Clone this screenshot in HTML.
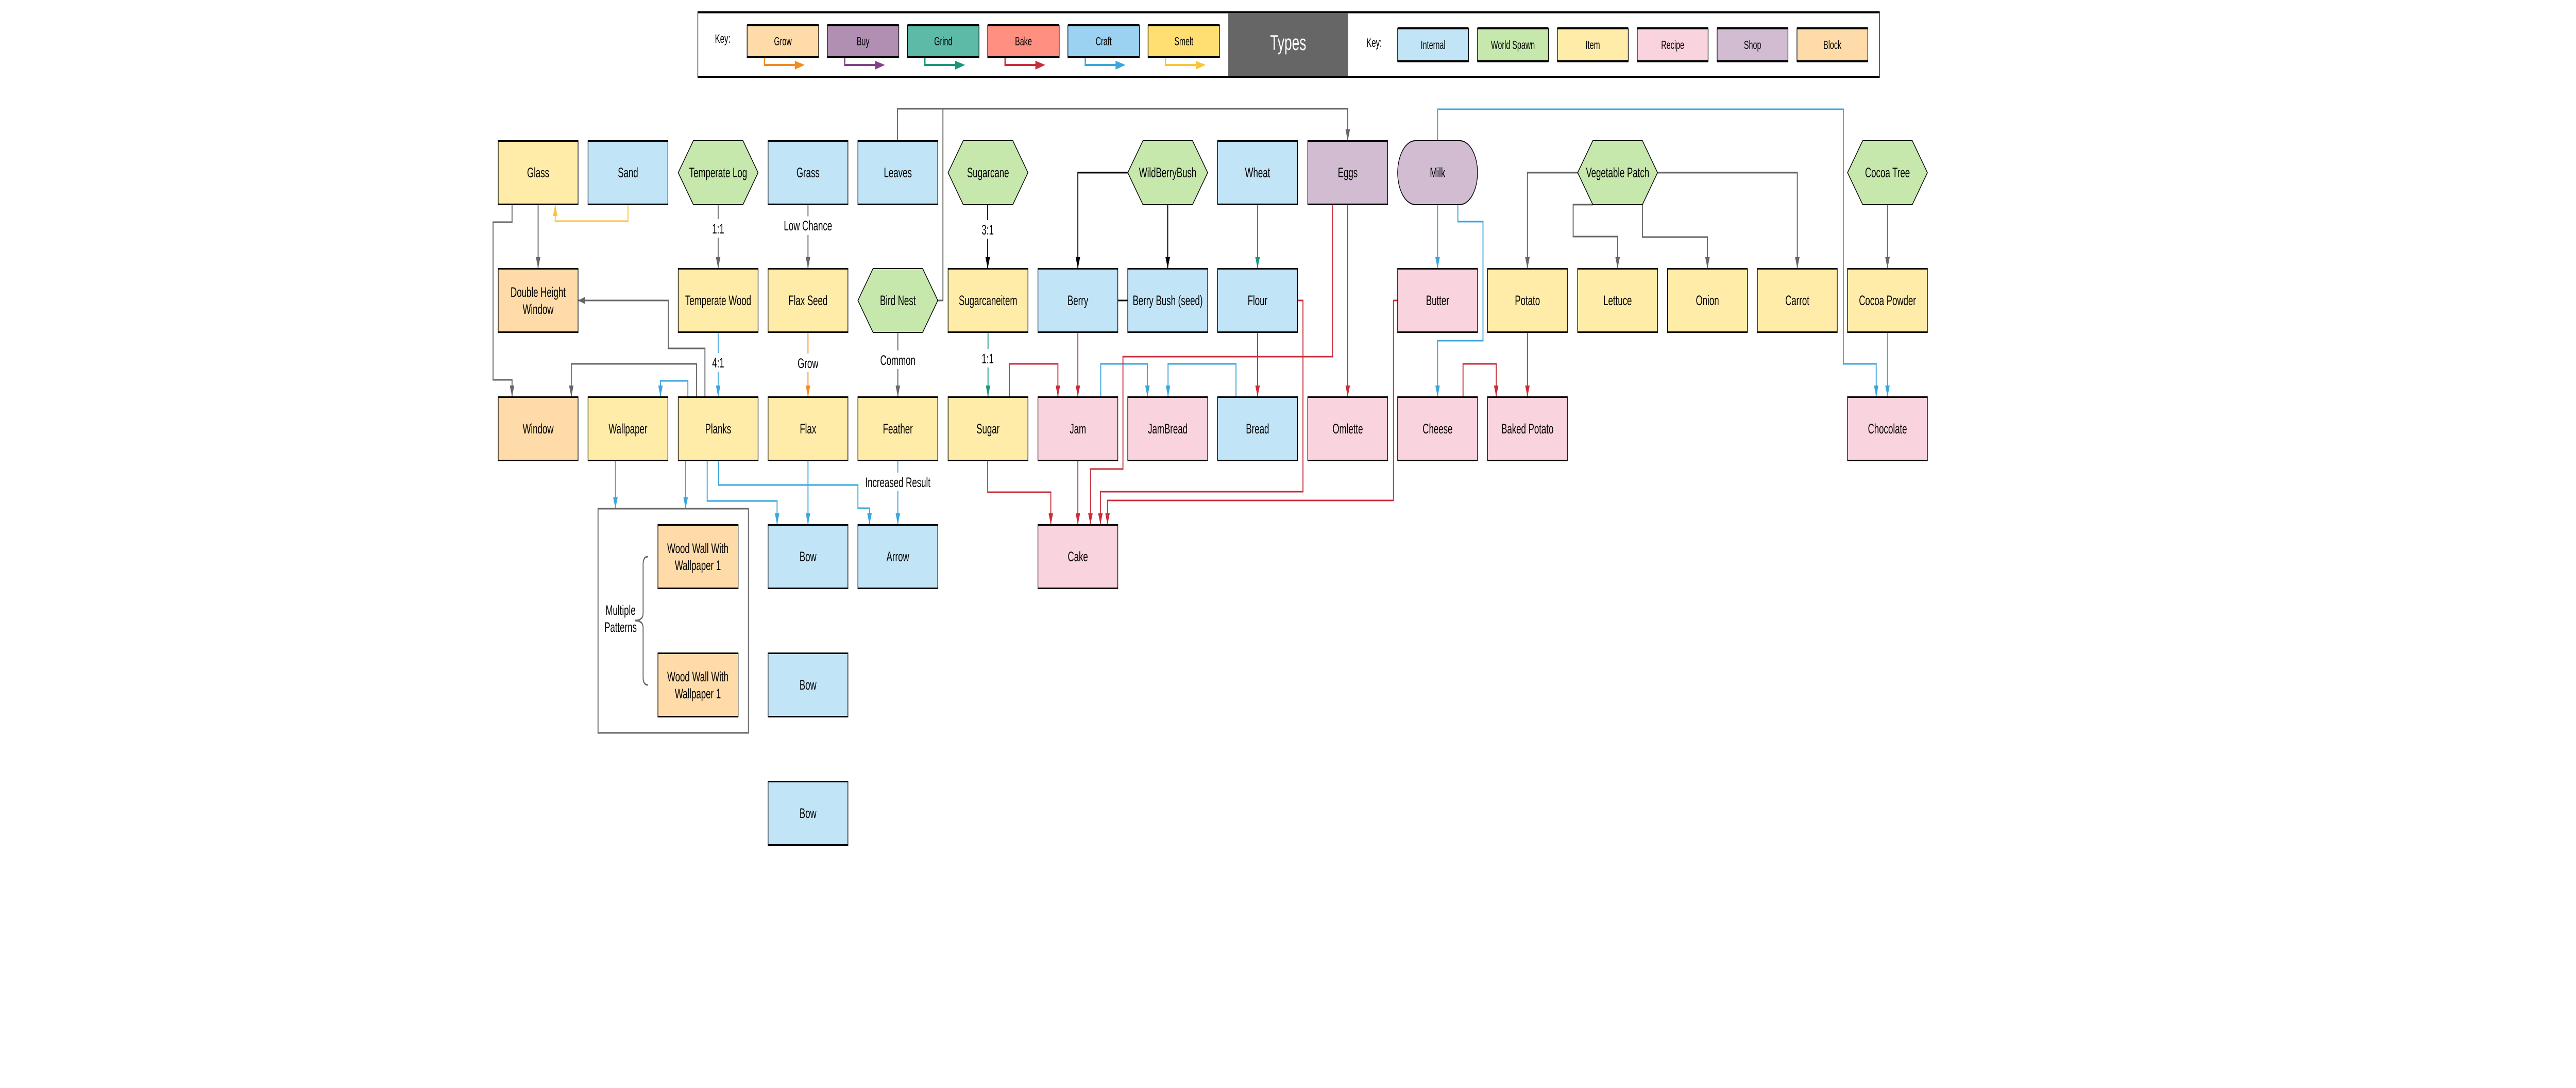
<!DOCTYPE html>
<html><head><meta charset="utf-8"><style>
html,body{margin:0;padding:0;background:#fff;overflow:hidden;width:100%;height:100%;}
svg{display:block;width:100vw;height:100vh;}
text{font-family:"Liberation Sans",sans-serif;fill:#000;}
</style></head><body>
<svg viewBox="0 0 7999 2111" preserveAspectRatio="none" xmlns="http://www.w3.org/2000/svg">
<defs>
<marker id="mg" viewBox="0 0 22 14" refX="22" refY="7" markerWidth="22" markerHeight="14" markerUnits="userSpaceOnUse" orient="auto"><path d="M0,0 L22,7 L0,14z" fill="#666"/></marker>
<marker id="mk" viewBox="0 0 22 14" refX="22" refY="7" markerWidth="22" markerHeight="14" markerUnits="userSpaceOnUse" orient="auto"><path d="M0,0 L22,7 L0,14z" fill="#000"/></marker>
<marker id="mb" viewBox="0 0 22 14" refX="22" refY="7" markerWidth="22" markerHeight="14" markerUnits="userSpaceOnUse" orient="auto"><path d="M0,0 L22,7 L0,14z" fill="#3aa6dd"/></marker>
<marker id="mr" viewBox="0 0 22 14" refX="22" refY="7" markerWidth="22" markerHeight="14" markerUnits="userSpaceOnUse" orient="auto"><path d="M0,0 L22,7 L0,14z" fill="#c92d39"/></marker>
<marker id="mo" viewBox="0 0 22 14" refX="22" refY="7" markerWidth="22" markerHeight="14" markerUnits="userSpaceOnUse" orient="auto"><path d="M0,0 L22,7 L0,14z" fill="#ef8d22"/></marker>
<marker id="mn" viewBox="0 0 22 14" refX="22" refY="7" markerWidth="22" markerHeight="14" markerUnits="userSpaceOnUse" orient="auto"><path d="M0,0 L22,7 L0,14z" fill="#19967d"/></marker>
<marker id="my" viewBox="0 0 22 14" refX="22" refY="7" markerWidth="22" markerHeight="14" markerUnits="userSpaceOnUse" orient="auto"><path d="M0,0 L22,7 L0,14z" fill="#fcc438"/></marker>
</defs>

<!-- KEY -->
<rect x="2167" y="23" width="3669" height="127" fill="#fff" stroke="#000" stroke-width="2"/>
<rect x="2167" y="22" width="3669" height="4" fill="#000"/>
<rect x="2167" y="147" width="3669" height="4" fill="#000"/>
<rect x="3814" y="25" width="372" height="123" fill="#666"/>
<text x="4000" y="97" font-size="42" text-anchor="middle" style="fill:#fff">Types</text>
<text x="2244" y="83" font-size="24" text-anchor="middle">Key:</text>
<text x="4267" y="91" font-size="24" text-anchor="middle">Key:</text>
<g stroke="#000">
<rect x="2320" y="49" width="222" height="62" fill="#ffdba9" stroke-width="2"/>
<rect x="2569" y="49" width="222" height="62" fill="#b18fb3" stroke-width="2"/>
<rect x="2818" y="49" width="222" height="62" fill="#5cbaa6" stroke-width="2"/>
<rect x="3067" y="49" width="222" height="62" fill="#ff8f80" stroke-width="2"/>
<rect x="3316" y="49" width="222" height="62" fill="#9bd2f2" stroke-width="2"/>
<rect x="3565" y="49" width="222" height="62" fill="#ffdf71" stroke-width="2"/>
<rect x="4340" y="55" width="220" height="64" fill="#c1e4f7" stroke-width="2"/>
<rect x="4588" y="55" width="220" height="64" fill="#c7e8ac" stroke-width="2"/>
<rect x="4836" y="55" width="220" height="64" fill="#ffeca9" stroke-width="2"/>
<rect x="5084" y="55" width="220" height="64" fill="#f9d3de" stroke-width="2"/>
<rect x="5332" y="55" width="220" height="64" fill="#d1bcd2" stroke-width="2"/>
<rect x="5580" y="55" width="220" height="64" fill="#ffdba9" stroke-width="2"/>
</g>
<g fill="#000">
<rect x="2320" y="47" width="222" height="4"/><rect x="2320" y="109" width="222" height="4"/>
<rect x="2569" y="47" width="222" height="4"/><rect x="2569" y="109" width="222" height="4"/>
<rect x="2818" y="47" width="222" height="4"/><rect x="2818" y="109" width="222" height="4"/>
<rect x="3067" y="47" width="222" height="4"/><rect x="3067" y="109" width="222" height="4"/>
<rect x="3316" y="47" width="222" height="4"/><rect x="3316" y="109" width="222" height="4"/>
<rect x="3565" y="47" width="222" height="4"/><rect x="3565" y="109" width="222" height="4"/>
<rect x="4340" y="53" width="220" height="4"/><rect x="4340" y="117" width="220" height="4"/>
<rect x="4588" y="53" width="220" height="4"/><rect x="4588" y="117" width="220" height="4"/>
<rect x="4836" y="53" width="220" height="4"/><rect x="4836" y="117" width="220" height="4"/>
<rect x="5084" y="53" width="220" height="4"/><rect x="5084" y="117" width="220" height="4"/>
<rect x="5332" y="53" width="220" height="4"/><rect x="5332" y="117" width="220" height="4"/>
<rect x="5580" y="53" width="220" height="4"/><rect x="5580" y="117" width="220" height="4"/>
</g>
<g font-size="23" text-anchor="middle">
<text x="2431" y="88">Grow</text><text x="2680" y="88">Buy</text><text x="2929" y="88">Grind</text>
<text x="3178" y="88">Bake</text><text x="3427" y="88">Craft</text><text x="3676" y="88">Smelt</text>
<text x="4450" y="95">Internal</text><text x="4698" y="95">World Spawn</text><text x="4946" y="95">Item</text>
<text x="5194" y="95">Recipe</text><text x="5442" y="95">Shop</text><text x="5690" y="95">Block</text>
</g>
<g fill="none" stroke-width="4">
<path d="M2374,113 V126 H2470" stroke="#ef8d22"/><path d="M2468,118 L2499,126 L2468,135z" fill="#ef8d22" stroke="none"/>
<path d="M2623,113 V126 H2719" stroke="#834187"/><path d="M2717,118 L2748,126 L2717,135z" fill="#834187" stroke="none"/>
<path d="M2872,113 V126 H2968" stroke="#19967d"/><path d="M2966,118 L2997,126 L2966,135z" fill="#19967d" stroke="none"/>
<path d="M3121,113 V126 H3217" stroke="#c92d39"/><path d="M3215,118 L3246,126 L3215,135z" fill="#c92d39" stroke="none"/>
<path d="M3370,113 V126 H3466" stroke="#3aa6dd"/><path d="M3464,118 L3495,126 L3464,135z" fill="#3aa6dd" stroke="none"/>
<path d="M3619,113 V126 H3715" stroke="#fcc438"/><path d="M3713,118 L3744,126 L3713,135z" fill="#fcc438" stroke="none"/>
</g>

<!-- CONNECTORS -->
<g fill="none" stroke-width="3">
<g stroke="#666" marker-end="url(#mg)">
<path d="M1671,397 V521"/>
<path d="M1590,397 V431 H1531 V737 H1590 V770"/>
<path d="M2230,397 V521"/>
<path d="M2509,397 V521"/>
<path d="M2788,645 V770"/>
<path d="M2189,770 V676 H2075 V583 H1795"/>
<path d="M2163,770 V706 H1774 V770"/>
<path d="M2787,273 V211 H4185 V273"/>
<path d="M4899,335 H4743 V521"/>
<path d="M4946,397 H4885 V459 H5023 V521"/>
<path d="M5100,397 V460 H5302 V521"/>
<path d="M5147,335 H5581 V521"/>
<path d="M5861,397 V521"/>
</g>
<path d="M2912,583 H2928 V211" stroke="#666"/>
<g stroke="#000" marker-end="url(#mk)">
<path d="M3067,397 V521"/>
<path d="M3502,335 H3347 V521"/>
<path d="M3626,397 V521"/>
<path d="M3502,583 H3443"/>
</g>
<path d="M1950,397 V429 H1724 V397" stroke="#fcc438" marker-end="url(#my)"/>
<g stroke="#3aa6dd" marker-end="url(#mb)">
<path d="M2230,645 V770"/>
<path d="M2136,770 V739 H2051 V770"/>
<path d="M4464,397 V521"/>
<path d="M4527,397 V430 H4605 V661 H4464 V770"/>
<path d="M4464,273 V212 H5724 V706 H5826 V770"/>
<path d="M5861,645 V770"/>
<path d="M3418,770 V706 H3563 V770"/>
<path d="M3838,770 V706 H3627 V770"/>
<path d="M1911,893 V987"/>
<path d="M2129,893 V987"/>
<path d="M2196,893 V972 H2413 V1018"/>
<path d="M2231,893 V941 H2664 V986 H2700 V1018"/>
<path d="M2509,893 V1018"/>
<path d="M2788,893 V1018"/>
</g>
<path d="M2509,645 V770" stroke="#ef8d22" marker-end="url(#mo)"/>
<g stroke="#19967d" marker-end="url(#mn)">
<path d="M3068,645 V770"/>
<path d="M3905,397 V521"/>
</g>
<g stroke="#c92d39" marker-end="url(#mr)">
<path d="M3347,645 V770"/>
<path d="M3134,770 V706 H3285 V770"/>
<path d="M3905,645 V770"/>
<path d="M4185,397 V770"/>
<path d="M4743,645 V770"/>
<path d="M4543,770 V706 H4646 V770"/>
<path d="M3067,893 V955 H3263 V1018"/>
<path d="M3347,893 V1018"/>
<path d="M4138,397 V692 H3487 V910 H3386 V1018"/>
<path d="M4029,583 H4046 V954 H3417 V1018"/>
<path d="M4340,583 H4327 V971 H3439 V1018"/>
</g>
</g>

<!-- edge labels -->
<g font-size="27" text-anchor="middle">
<rect x="2210" y="425" width="40" height="36" fill="#fff"/><text x="2230" y="453">1:1</text>
<rect x="2440" y="420" width="138" height="36" fill="#fff"/><text x="2509" y="447">Low Chance</text>
<rect x="3047" y="427" width="40" height="36" fill="#fff"/><text x="3067" y="455">3:1</text>
<rect x="2210" y="685" width="40" height="36" fill="#fff"/><text x="2230" y="713">4:1</text>
<rect x="2474" y="686" width="70" height="36" fill="#fff"/><text x="2509" y="714">Grow</text>
<rect x="2740" y="680" width="96" height="36" fill="#fff"/><text x="2788" y="708">Common</text>
<rect x="3047" y="677" width="40" height="36" fill="#fff"/><text x="3067" y="705">1:1</text>
<rect x="2690" y="917" width="196" height="36" fill="#fff"/><text x="2788" y="945">Increased Result</text>
</g>

<!-- container -->
<rect x="1857" y="987" width="467" height="435" fill="none" stroke="#666" stroke-width="3"/>
<path d="M2012,1080 Q1997,1080 1997,1095 V1190 Q1997,1204 1971,1204 Q1997,1204 1997,1218 V1314 Q1997,1329 2012,1329" fill="none" stroke="#666" stroke-width="3"/>
<text x="1927" y="1193" font-size="27" text-anchor="middle">Multiple</text>
<text x="1927" y="1226" font-size="27" text-anchor="middle">Patterns</text>

<!-- NODES -->
<g stroke="#000" stroke-width="2">
<rect x="1547" y="273" width="248" height="124" fill="#ffeca9"/>
<rect x="1826" y="273" width="248" height="124" fill="#c1e4f7"/>
<polygon points="2153,273 2307,273 2354,335 2307,397 2153,397 2106,335" fill="#c7e8ac"/>
<rect x="2385" y="273" width="248" height="124" fill="#c1e4f7"/>
<rect x="2664" y="273" width="248" height="124" fill="#c1e4f7"/>
<polygon points="2991,273 3145,273 3192,335 3145,397 2991,397 2944,335" fill="#c7e8ac"/>
<polygon points="3549,273 3703,273 3750,335 3703,397 3549,397 3502,335" fill="#c7e8ac"/>
<rect x="3781" y="273" width="248" height="124" fill="#c1e4f7"/>
<rect x="4061" y="273" width="248" height="124" fill="#d1bcd2"/>
<rect x="4340" y="273" width="248" height="124" rx="55" ry="62" fill="#d1bcd2"/>
<polygon points="4946,273 5100,273 5147,335 5100,397 4946,397 4899,335" fill="#c7e8ac"/>
<polygon points="5784,273 5938,273 5985,335 5938,397 5784,397 5737,335" fill="#c7e8ac"/>
<rect x="1547" y="521" width="248" height="124" fill="#ffdba9"/>
<rect x="2106" y="521" width="248" height="124" fill="#ffeca9"/>
<rect x="2385" y="521" width="248" height="124" fill="#ffeca9"/>
<polygon points="2711,521 2865,521 2912,583 2865,645 2711,645 2664,583" fill="#c7e8ac"/>
<rect x="2944" y="521" width="248" height="124" fill="#ffeca9"/>
<rect x="3223" y="521" width="248" height="124" fill="#c1e4f7"/>
<rect x="3502" y="521" width="248" height="124" fill="#c1e4f7"/>
<rect x="3781" y="521" width="248" height="124" fill="#c1e4f7"/>
<rect x="4340" y="521" width="248" height="124" fill="#f9d3de"/>
<rect x="4619" y="521" width="248" height="124" fill="#ffeca9"/>
<rect x="4899" y="521" width="248" height="124" fill="#ffeca9"/>
<rect x="5178" y="521" width="248" height="124" fill="#ffeca9"/>
<rect x="5457" y="521" width="248" height="124" fill="#ffeca9"/>
<rect x="5737" y="521" width="248" height="124" fill="#ffeca9"/>
<rect x="1547" y="770" width="248" height="124" fill="#ffdba9"/>
<rect x="1826" y="770" width="248" height="124" fill="#ffeca9"/>
<rect x="2106" y="770" width="248" height="124" fill="#ffeca9"/>
<rect x="2385" y="770" width="248" height="124" fill="#ffeca9"/>
<rect x="2664" y="770" width="248" height="124" fill="#ffeca9"/>
<rect x="2944" y="770" width="248" height="124" fill="#ffeca9"/>
<rect x="3223" y="770" width="248" height="124" fill="#f9d3de"/>
<rect x="3502" y="770" width="248" height="124" fill="#f9d3de"/>
<rect x="3781" y="770" width="248" height="124" fill="#c1e4f7"/>
<rect x="4061" y="770" width="248" height="124" fill="#f9d3de"/>
<rect x="4340" y="770" width="248" height="124" fill="#f9d3de"/>
<rect x="4619" y="770" width="248" height="124" fill="#f9d3de"/>
<rect x="5737" y="770" width="248" height="124" fill="#f9d3de"/>
<rect x="2043" y="1018" width="249" height="124" fill="#ffdba9"/>
<rect x="2043" y="1267" width="249" height="124" fill="#ffdba9"/>
<rect x="2385" y="1018" width="248" height="124" fill="#c1e4f7"/>
<rect x="2664" y="1018" width="248" height="124" fill="#c1e4f7"/>
<rect x="3223" y="1018" width="248" height="124" fill="#f9d3de"/>
<rect x="2385" y="1267" width="248" height="124" fill="#c1e4f7"/>
<rect x="2385" y="1516" width="248" height="124" fill="#c1e4f7"/>
</g>
<g fill="#000">
<path d="M1547,272h248v3h-248zM1547,395h248v3h-248zM1826,272h248v3h-248zM1826,395h248v3h-248zM2385,272h248v3h-248zM2385,395h248v3h-248zM2664,272h248v3h-248zM2664,395h248v3h-248zM3781,272h248v3h-248zM3781,395h248v3h-248zM4061,272h248v3h-248zM4061,395h248v3h-248z"/>
<path d="M1547,520h248v3h-248zM1547,643h248v3h-248zM2106,520h248v3h-248zM2106,643h248v3h-248zM2385,520h248v3h-248zM2385,643h248v3h-248zM2944,520h248v3h-248zM2944,643h248v3h-248zM3223,520h248v3h-248zM3223,643h248v3h-248zM3502,520h248v3h-248zM3502,643h248v3h-248zM3781,520h248v3h-248zM3781,643h248v3h-248zM4340,520h248v3h-248zM4340,643h248v3h-248zM4619,520h248v3h-248zM4619,643h248v3h-248zM4899,520h248v3h-248zM4899,643h248v3h-248zM5178,520h248v3h-248zM5178,643h248v3h-248zM5457,520h248v3h-248zM5457,643h248v3h-248zM5737,520h248v3h-248zM5737,643h248v3h-248z"/>
<path d="M1547,769h248v3h-248zM1547,892h248v3h-248zM1826,769h248v3h-248zM1826,892h248v3h-248zM2106,769h248v3h-248zM2106,892h248v3h-248zM2385,769h248v3h-248zM2385,892h248v3h-248zM2664,769h248v3h-248zM2664,892h248v3h-248zM2944,769h248v3h-248zM2944,892h248v3h-248zM3223,769h248v3h-248zM3223,892h248v3h-248zM3502,769h248v3h-248zM3502,892h248v3h-248zM3781,769h248v3h-248zM3781,892h248v3h-248zM4061,769h248v3h-248zM4061,892h248v3h-248zM4340,769h248v3h-248zM4340,892h248v3h-248zM4619,769h248v3h-248zM4619,892h248v3h-248zM5737,769h248v3h-248zM5737,892h248v3h-248z"/>
<path d="M2385,1017h248v3h-248zM2385,1140h248v3h-248zM2664,1017h248v3h-248zM2664,1140h248v3h-248zM3223,1017h248v3h-248zM3223,1140h248v3h-248zM2385,1266h248v3h-248zM2385,1389h248v3h-248zM2385,1515h248v3h-248zM2385,1638h248v3h-248zM2043,1017h249v3h-249zM2043,1140h249v3h-249zM2043,1266h249v3h-249zM2043,1389h249v3h-249z"/>
</g>

<g font-size="27" text-anchor="middle">
<text x="1671" y="344">Glass</text>
<text x="1950" y="344">Sand</text>
<text x="2230" y="344">Temperate Log</text>
<text x="2509" y="344">Grass</text>
<text x="2788" y="344">Leaves</text>
<text x="3068" y="344">Sugarcane</text>
<text x="3626" y="344">WildBerryBush</text>
<text x="3905" y="344">Wheat</text>
<text x="4185" y="344">Eggs</text>
<text x="4464" y="344">Milk</text>
<text x="5023" y="344">Vegetable Patch</text>
<text x="5861" y="344">Cocoa Tree</text>

<text x="1671" y="576">Double Height</text>
<text x="1671" y="609">Window</text>
<text x="2230" y="592">Temperate Wood</text>
<text x="2509" y="592">Flax Seed</text>
<text x="2788" y="592">Bird Nest</text>
<text x="3068" y="592">Sugarcaneitem</text>
<text x="3347" y="592">Berry</text>
<text x="3626" y="592">Berry Bush (seed)</text>
<text x="3905" y="592">Flour</text>
<text x="4464" y="592">Butter</text>
<text x="4743" y="592">Potato</text>
<text x="5023" y="592">Lettuce</text>
<text x="5302" y="592">Onion</text>
<text x="5581" y="592">Carrot</text>
<text x="5861" y="592">Cocoa Powder</text>

<text x="1671" y="841">Window</text>
<text x="1950" y="841">Wallpaper</text>
<text x="2230" y="841">Planks</text>
<text x="2509" y="841">Flax</text>
<text x="2788" y="841">Feather</text>
<text x="3068" y="841">Sugar</text>
<text x="3347" y="841">Jam</text>
<text x="3626" y="841">JamBread</text>
<text x="3905" y="841">Bread</text>
<text x="4185" y="841">Omlette</text>
<text x="4464" y="841">Cheese</text>
<text x="4743" y="841">Baked Potato</text>
<text x="5861" y="841">Chocolate</text>

<text x="2167" y="1073">Wood Wall With</text>
<text x="2167" y="1106">Wallpaper 1</text>
<text x="2167" y="1322">Wood Wall With</text>
<text x="2167" y="1355">Wallpaper 1</text>
<text x="2509" y="1089">Bow</text>
<text x="2788" y="1089">Arrow</text>
<text x="3347" y="1089">Cake</text>
<text x="2509" y="1338">Bow</text>
<text x="2509" y="1587">Bow</text>
</g>
</svg>
</body></html>
